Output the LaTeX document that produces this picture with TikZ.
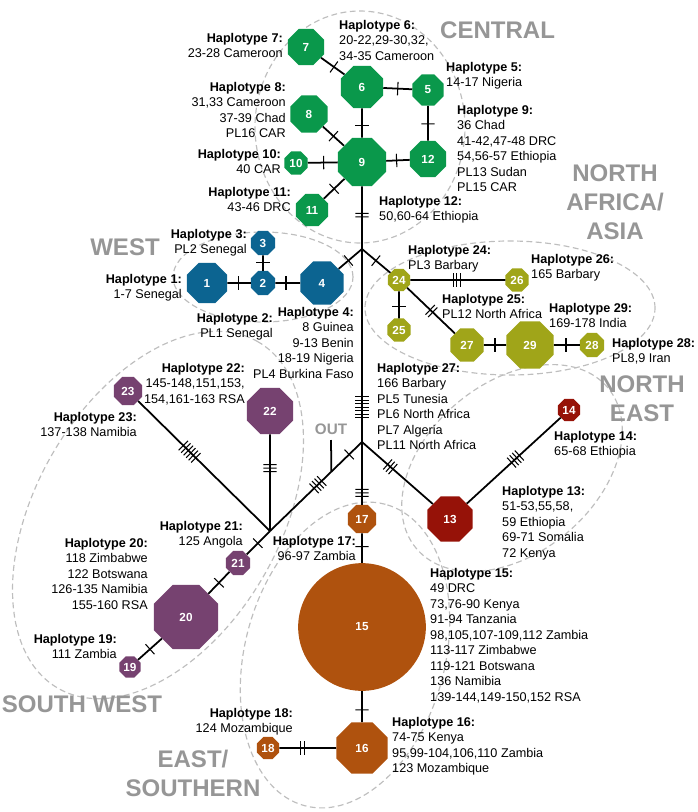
\documentclass[tikz,border=0pt]{standalone}
\usepackage{fontspec}
\setmainfont{Liberation Sans}
\usetikzlibrary{shapes.geometric,decorations.markings,calc}
\definecolor{hgreen}{RGB}{10,152,75}
\definecolor{hblue}{RGB}{12,100,145}
\definecolor{holive}{RGB}{160,165,25}
\definecolor{hred}{RGB}{150,18,8}
\definecolor{horange}{RGB}{175,82,14}
\definecolor{hpurple}{RGB}{118,66,112}
\definecolor{regiongray}{RGB}{150,150,150}
\definecolor{zonegray}{RGB}{190,190,190}
\begin{document}
\begin{tikzpicture}[x=0.03cm,y=-0.03cm]
	% Estilos
	\tikzstyle{haplo} = [regular polygon, regular polygon sides=8, inner sep=0pt, text=white, font=\bfseries\fontsize{10}{12}\selectfont]
	\tikzset{hsize/.style={minimum size=#1*1.85pt}}
	\tikzstyle{info} = [inner sep=0pt, font=\fontsize{10.8}{13.2}\selectfont]
	\tikzstyle{infoL} = [info, anchor=north west, align=left]
	\tikzstyle{infoR} = [info, anchor=north east, align=right]
	\tikzstyle{region} = [inner sep=0pt, text=regiongray, align=center, font=\bfseries\fontsize{20.5}{24.7}\selectfont]
	\tikzstyle{zone} = [draw=zonegray, line width=1pt, dash pattern=on 5pt off 3pt]
	\tikzstyle{link} = [line width=1.5pt]
	\tikzset{mut/.style 2 args={postaction={decorate, decoration={markings, mark=at position #2 with {\foreach \k in {1,...,#1} \draw[line width=0.9pt] ({(\k-(#1+1)/2)*0.105cm},-0.2cm) -- ({(\k-(#1+1)/2)*0.105cm},0.2cm);}}}}}
	\useasboundingbox (0,0) rectangle (697,812);
	% Zonas
	\draw [zone] (360,127) ellipse [x radius=3.15cm, y radius=3.48cm];
	\draw [zone] (263,277) ellipse [x radius=2.7cm, y radius=1.35cm];
	\draw [zone] (510,308) ellipse [x radius=4.35cm, y radius=2.01cm];
	\draw [zone, rotate around={40:(512,468)}] (512,468) ellipse [x radius=3.75cm, y radius=2.55cm];
	\draw [zone, rotate around={60:(158,515)}] (158,515) ellipse [x radius=6cm, y radius=3.66cm];
	\draw [zone, rotate around={75:(345,655)}] (345,655) ellipse [x radius=4.68cm, y radius=3cm];
	% Regiões
	\node (rcentral) [region, anchor=west] at (440,30) {CENTRAL};
	\node (rwest) [region] at (125,247) {WEST};
	\node (rnaa) [region] at (615,202) {NORTH\\AFRICA/\\ASIA};
	\node (rne) [region] at (642,399) {NORTH\\EAST};
	\node (rsw) [region] at (82,704) {SOUTH WEST};
	\node (res) [region] at (193,773) {EAST/\\SOUTHERN};
	\node (rout) [region, font=\bfseries\fontsize{13}{15}\selectfont] at (331,429) {OUT};
	% Nós
	\coordinate (j1) at (362,249);
	\coordinate (j2) at (362,442);
	\coordinate (j3) at (270,531);
	\node (h7) [haplo, hsize=18, fill=hgreen] at (306,47) {7};
	\node (h6) [haplo, hsize=21, fill=hgreen] at (362,87) {6};
	\node (h5) [haplo, hsize=15.5, fill=hgreen] at (428,90) {5};
	\node (h8) [haplo, hsize=18.5, fill=hgreen] at (309,114) {8};
	\node (h9) [haplo, hsize=24, fill=hgreen] at (362,162) {9};
	\node (h12) [haplo, hsize=18, fill=hgreen] at (428,159) {12};
	\node (h10) [haplo, hsize=11.5, fill=hgreen] at (296,163) {10};
	\node (h11) [haplo, hsize=16, fill=hgreen] at (312,210) {11};
	\node (h4) [haplo, hsize=21.5, fill=hblue] at (322,283) {4};
	\node (h2) [haplo, hsize=12, fill=hblue] at (263,283) {2};
	\node (h1) [haplo, hsize=20, fill=hblue] at (207,283) {1};
	\node (h3) [haplo, hsize=12, fill=hblue] at (263,243) {3};
	\node (h24) [haplo, hsize=11, fill=holive] at (399,280) {24};
	\node (h26) [haplo, hsize=11.5, fill=holive] at (517,280) {26};
	\node (h25) [haplo, hsize=11.5, fill=holive] at (399,330) {25};
	\node (h27) [haplo, hsize=16.5, fill=holive] at (467,345) {27};
	\node (h29) [haplo, hsize=23.5, fill=holive] at (530,345) {29};
	\node (h28) [haplo, hsize=12, fill=holive] at (592,345) {28};
	\node (h13) [haplo, hsize=22.5, fill=hred] at (450,519) {13};
	\node (h14) [haplo, hsize=11, fill=hred] at (569,410) {14};
	\node (h17) [haplo, hsize=14, fill=horange] at (362,519) {17};
	\node (h15) [haplo, circle, minimum size=109pt, fill=horange] at (362,627) {15};
	\node (h16) [haplo, hsize=25.5, fill=horange] at (362,748) {16};
	\node (h18) [haplo, hsize=11, fill=horange] at (268,748) {18};
	\node (h22) [haplo, hsize=23, fill=hpurple] at (270,411) {22};
	\node (h23) [haplo, hsize=14, fill=hpurple] at (128,391) {23};
	\node (h21) [haplo, hsize=12, fill=hpurple] at (238,563) {21};
	\node (h20) [haplo, hsize=32, fill=hpurple] at (186,617) {20};
	\node (h19) [haplo, hsize=10.5, fill=hpurple] at (130,667) {19};
	\coordinate (outtop) at (331,440);
	\coordinate (outend) at ($(j2)!0.333!(j3)$);
	% Rótulos
	\node (l7) [infoR] at (283,33) {\textbf{Haplotype 7:}\\23-28 Cameroon};
	\node (l6) [infoL] at (339,20) {\textbf{Haplotype 6:}\\20-22,29-30,32,\\34-35 Cameroon};
	\node (l5) [infoL] at (446,62) {\textbf{Haplotype 5:}\\14-17 Nigeria};
	\node (l8) [infoR] at (286,82) {\textbf{Haplotype 8:}\\31,33 Cameroon\\37-39 Chad\\PL16 CAR};
	\node (l9) [infoL] at (457,105) {\textbf{Haplotype 9:}\\36 Chad\\41-42,47-48 DRC\\54,56-57 Ethiopia\\PL13 Sudan\\PL15 CAR};
	\node (l10) [infoR] at (281,149) {\textbf{Haplotype 10:}\\40 CAR};
	\node (l11) [infoR] at (291,187) {\textbf{Haplotype 11:}\\43-46 DRC};
	\node (l12) [infoL] at (379,196) {\textbf{Haplotype 12:}\\50,60-64 Ethiopia};
	\node (l3) [infoR] at (247,229) {\textbf{Haplotype 3:}\\PL2 Senegal};
	\node (l1) [infoR] at (182,274) {\textbf{Haplotype 1:}\\1-7 Senegal};
	\node (l2) [infoR] at (273,313) {\textbf{Haplotype 2:}\\PL1 Senegal};
	\node (l4) [infoR] at (354,307) {\textbf{Haplotype 4:}\\8 Guinea\\9-13 Benin\\18-19 Nigeria\\PL4 Burkina Faso};
	\node (l24) [infoL] at (408,245) {\textbf{Haplotype 24:}\\PL3 Barbary};
	\node (l26) [infoL] at (531,254) {\textbf{Haplotype 26:}\\165 Barbary};
	\node (l25) [infoL] at (442,294) {\textbf{Haplotype 25:}\\PL12 North Africa};
	\node (l29) [infoL] at (549,303) {\textbf{Haplotype 29:}\\169-178 India};
	\node (l28) [infoL] at (612,338) {\textbf{Haplotype 28:}\\PL8,9 Iran};
	\node (l27) [infoL] at (377,363) {\textbf{Haplotype 27:}\\166 Barbary\\PL5 Tunesia\\PL6 North Africa\\PL7 Algeria\\PL11 North Africa};
	\node (l14) [infoL] at (554,431) {\textbf{Haplotype 14:}\\65-68 Ethiopia};
	\node (l13) [infoL] at (502,486) {\textbf{Haplotype 13:}\\51-53,55,58,\\59 Ethiopia\\69-71 Somalia\\72 Kenya};
	\node (l22) [infoR] at (245,363) {\textbf{Haplotype 22:}\\145-148,151,153,\\154,161-163 RSA};
	\node (l23) [infoR] at (137,412) {\textbf{Haplotype 23:}\\137-138 Namibia};
	\node (l21) [infoR] at (243,521) {\textbf{Haplotype 21:}\\125 Angola};
	\node (l20) [infoR] at (148,538) {\textbf{Haplotype 20:}\\118 Zimbabwe\\122 Botswana\\126-135 Namibia\\155-160 RSA};
	\node (l17) [infoR] at (356,536) {\textbf{Haplotype 17:}\\96-97 Zambia};
	\node (l15) [infoL] at (430,568) {\textbf{Haplotype 15:}\\49 DRC\\73,76-90 Kenya\\91-94 Tanzania\\98,105,107-109,112 Zambia\\113-117 Zimbabwe\\119-121 Botswana\\136 Namibia\\139-144,149-150,152 RSA};
	\node (l19) [infoR] at (117,634) {\textbf{Haplotype 19:}\\111 Zambia};
	\node (l18) [infoR] at (293,708) {\textbf{Haplotype 18:}\\124 Mozambique};
	\node (l16) [infoL] at (392,717) {\textbf{Haplotype 16:}\\74-75 Kenya\\95,99-104,106,110 Zambia\\123 Mozambique};
	% Ligações
	\draw [link, mut={1}{0.55}] (h7) -- (h6);
	\draw [link, mut={1}{0.5}] (h6) -- (h5);
	\draw [link, mut={1}{0.57}] (h6) -- (h9);
	\draw [link, mut={1}{0.52}] (h5) -- (h12);
	\draw [link, mut={1}{0.5}] (h8) -- (h9);
	\draw [link, mut={1}{0.53}] (h10) -- (h9);
	\draw [link, mut={1}{0.44}] (h9) -- (h12);
	\draw [link, mut={1}{0.5}] (h11) -- (h9);
	\draw [link, mut={2}{0.46}] (h9) -- (j1);
	\draw [link, mut={1}{0.58}] (j1) -- (h4);
	\draw [link, mut={1}{0.46}] (h1) -- (h2);
	\draw [link, mut={1}{0.43}] (h2) -- (h4);
	\draw [link, mut={1}{0.47}] (h3) -- (h2);
	\draw [link, mut={1}{0.49}] (j1) -- (h24);
	\draw [link, mut={3}{0.49}] (h24) -- (h26);
	\draw [link, mut={1}{0.57}] (h24) -- (h25);
	\draw [link, mut={2}{0.51}] (h24) -- (h27);
	\draw [link, mut={1}{0.5}] (h27) -- (h29);
	\draw [link, mut={1}{0.47}] (h29) -- (h28);
	\draw [link, mut={7}{0.82}] (j1) -- (j2);
	\draw [link, mut={3}{0.81}] (j2) -- (h17);
	\draw [link, mut={1}{0.45}] (h17) -- (h15);
	\draw [link, mut={1}{0.6}] (h15) -- (h16);
	\draw [link, mut={2}{0.41}] (h18) -- (h16);
	\draw [link, mut={3}{0.4}] (j2) -- (h13);
	\draw [link, mut={4}{0.52}] (h13) -- (h14);
	\draw [link, mut={1}{0.14}, mut={4}{0.48}] (j2) -- (j3);
	\draw [link] (outtop) -- (outend);
	\draw [link, mut={3}{0.65}] (j3) -- (h22);
	\draw [link, mut={6}{0.61}] (j3) -- (h23);
	\draw [link, mut={1}{0.52}] (j3) -- (h21);
	\draw [link, mut={1}{0.5}] (h21) -- (h20);
	\draw [link, mut={1}{0.5}] (h20) -- (h19);
\end{tikzpicture}
\end{document}
